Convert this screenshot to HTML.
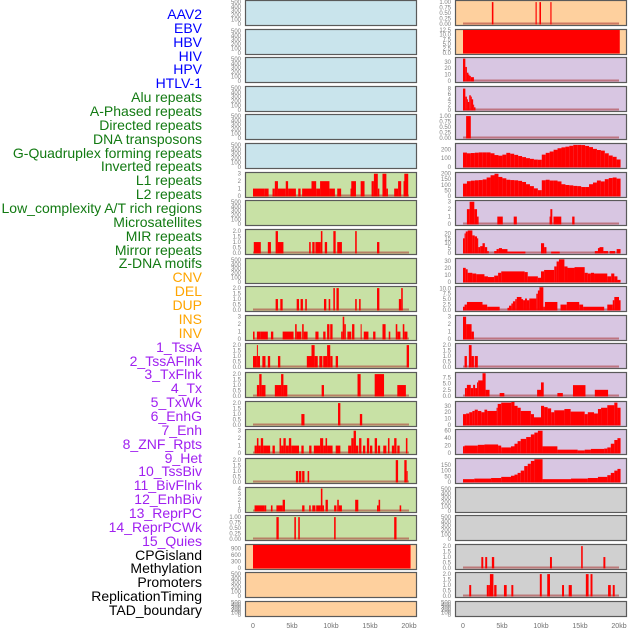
<!DOCTYPE html>
<html><head><meta charset="utf-8">
<style>
html,body{margin:0;padding:0;background:#fff;}
body{width:630px;height:630px;overflow:hidden;position:relative;font-family:"Liberation Sans",sans-serif;}
#labels div{position:absolute;right:428px;font-size:14px;line-height:14px;white-space:nowrap;}
</style></head>
<body>
<div id="labels"></div>
<svg id="chart" width="630" height="630" style="position:absolute;left:0;top:0"></svg>
<script>
// ---- track names and groups ----
const trackNames = ["AAV2","EBV","HBV","HIV","HPV","HTLV-1","Alu repeats","A-Phased repeats","Directed repeats","DNA transposons","G-Quadruplex forming repeats","Inverted repeats","L1 repeats","L2 repeats","Low_complexity A/T rich regions","Microsatellites","MIR repeats","Mirror repeats","Z-DNA motifs","CNV","DEL","DUP","INS","INV","1_TssA","2_TssAFlnk","3_TxFlnk","4_Tx","5_TxWk","6_EnhG","7_Enh","8_ZNF_Rpts","9_Het","10_TssBiv","11_BivFlnk","12_EnhBiv","13_ReprPC","14_ReprPCWk","15_Quies","CPGisland","Methylation","Promoters","ReplicationTiming","TAD_boundary"];
const groupCounts = [6,13,5,15,5];
const groupColors = ["#0000ff","#127a12","#ffa500","#a020f0","#000000"];
const panelBg = ["#c9e4ec","#c8e1a5","#fed09e","#d8c6e2","#d0d0d0"];
const panelBgIdx = [0,0,0,0,0,0,1,1,1,1,1,1,1,1,1,1,1,1,1,2,2,2,2,2,3,3,3,3,3,3,3,3,3,3,3,3,3,3,3,3,3,4,4,4,4,4];
const xTickVals = [0,5,10,15,20];
const xTickLabels = ["0","5kb","10kb","15kb","20kb"];

// ---- tick label sets ----
const T500=["0","100","200","300","400","500"];
const T3=["0","1","2","3"];
const T4=["0","1","2","3","4"];
const T2=["0.0","0.5","1.0","1.5","2.0"];
const T1=["0.00","0.25","0.50","0.75","1.00"];
const T900=["0","300","600","900"];
const T125=["0.0","2.5","5.0","7.5","10.0","12.5"];
const T30=["0","10","20","30"];
const T8=["0","2","4","6","8"];
const T200=["0","100","200"];
const T200b=["0","50","100","150","200"];
const T20=["0","5","10","15","20"];
const T10=["0.0","2.5","5.0","7.5","10.0"];
const T75=["0.0","2.5","5.0","7.5"];
const T60=["0","20","40","60"];
const T150=["0","50","100","150"];

// ---- segment data [startKb, endKb, value] ----
const segL6=[[0,1.5,1],[1.5,2.0,1],[2.5,2.8,1],[2.8,3.2,2],[3.2,4.2,1],[4.2,4.5,2],[4.5,5.5,1],[5.8,6.1,1],[6.3,7.5,1],[7.5,8.1,2],[8.1,8.6,1],[8.6,9.8,2],[9.8,10.5,1],[10.8,11.3,1],[12.5,12.6,1],[12.6,13.2,2],[13.8,14.3,2],[15.2,15.5,2],[15.5,16.0,3],[16.0,16.2,1],[16.6,17.1,3],[17.1,17.3,1],[18.1,18.6,1],[18.6,19.0,2],[19.3,19.4,2],[19.4,19.9,3]];
const segL8=[[0.1,1.0,1],[1.9,2.3,1],[2.9,3.2,2],[3.2,3.9,1],[7.2,7.4,1],[7.6,7.9,1],[8.0,8.7,1],[8.7,8.9,2],[9.2,9.5,1],[10.3,10.6,2],[10.8,11.4,1],[13.1,13.3,2],[15.9,16.2,1]];
const segL10=[[2.9,3.2,1],[3.5,3.8,1],[5.6,5.9,1],[6.1,6.4,1],[6.7,6.9,1],[9.1,9.4,1],[9.7,9.9,1],[10.3,10.5,2],[10.7,11.0,2],[13.1,13.3,1],[13.6,13.8,1],[15.9,16.2,2],[18.7,19.0,1],[19.0,19.2,2]];
const segL11=[[0,0.2,1],[0.5,1.0,1],[1.0,1.9,1],[2.3,2.6,1],[3.8,5.2,1],[5.4,5.6,2],[5.6,6.2,1],[6.3,6.5,2],[6.5,7.0,1],[8.0,8.4,1],[9.0,9.3,1],[9.5,9.8,2],[9.9,10.2,2],[11.3,11.5,1],[11.5,11.7,3],[11.7,11.9,2],[12.1,12.6,1],[12.7,13.0,2],[13.8,13.9,2],[14.2,14.8,1],[15.4,15.7,1],[16.6,17.0,2],[17.4,17.6,1],[18.3,18.5,2],[18.5,18.9,1],[19.2,19.4,2],[19.4,19.8,1]];
const segL12=[[0,0.5,1],[0.5,0.6,2],[0.6,0.9,1],[1.2,1.6,1],[1.9,2.2,1],[3.2,3.5,1],[6.9,7.5,1],[7.5,7.9,2],[7.9,8.3,1],[8.5,8.9,1],[9.0,9.5,1],[9.5,9.9,2],[9.9,10.2,1],[10.6,10.9,1],[19.7,20.0,2]];
const segL13=[[0.5,0.8,1],[0.8,1.1,2],[1.1,1.6,1],[2.8,3.6,1],[3.6,3.9,2],[3.9,4.4,1],[8.8,9.1,1],[13.4,13.8,2],[15.6,16.8,2],[18.5,19.6,1]];
const segL14=[[6.2,6.6,1],[10.9,11.2,2],[13.7,14.0,1]];
const segL15=[[0.2,0.5,1],[0.5,0.7,2],[0.7,1.0,1],[1.0,1.3,2],[1.3,2.2,1],[2.5,2.8,1],[3.4,3.6,2],[3.6,3.9,1],[3.9,4.2,2],[4.2,4.6,1],[4.6,4.9,2],[4.9,5.9,1],[6.2,6.5,1],[7.2,7.5,1],[7.8,8.6,1],[8.6,9.0,2],[9.0,9.3,1],[9.3,9.5,2],[9.5,10.2,1],[10.6,11.2,1],[12.2,12.6,1],[12.6,12.9,2],[12.9,13.2,3],[13.2,13.5,1],[13.6,13.9,2],[14.1,14.4,1],[14.6,14.9,2],[15.0,15.3,1],[15.6,15.9,2],[16.0,16.3,1],[16.7,17.1,1],[17.3,17.5,2],[17.8,18.1,1],[18.1,18.4,2],[18.5,18.8,1],[19.6,19.8,2]];
const segL16=[[5.5,5.8,1],[5.9,6.2,1],[6.3,6.6,1],[7.0,7.2,1],[18.3,18.6,2],[19.4,19.7,2],[19.7,19.8,1]];
const segL17=[[0.2,1.5,1],[1.5,1.7,1],[2.3,2.5,1],[3.0,3.8,1],[3.8,4.1,2],[6.3,6.6,1],[7.2,7.4,1],[7.6,8.0,1],[8.1,8.7,1],[8.7,8.9,4],[8.9,9.1,1],[9.3,9.6,2],[10.4,10.7,1],[10.8,11.0,2],[11.0,11.4,1],[13.1,13.5,2],[15.9,16.1,1],[16.1,16.3,2],[18.8,19.0,1]];
const segL18=[[3.0,3.3,1],[5.3,5.5,1],[5.8,6.0,1],[10.4,10.6,1],[18.1,18.4,1]];
const segL19=[[0,20.2,1058]];
const segR0=[[3.7,3.9,1],[9.3,9.45,1],[9.8,10.0,1],[11.2,11.35,1]];
const segR1=[[0,20.1,12.6]];
const segR2=[[0,0.3,35],[0.3,0.5,22],[0.5,0.7,13],[0.7,0.8,10],[0.8,1.0,8],[1.0,1.4,6]];
const segR3=[[0,0.3,8],[0.3,0.5,5],[0.5,0.6,4],[0.6,0.8,3],[0.8,1.0,5.5],[1.0,1.1,5],[1.1,1.3,4],[1.3,1.4,2],[1.4,1.6,1]];
const segR4=[[0.4,1.0,1]];
const binR5=[163,155,158,162,165,165,165,155,135,128,140,160,150,137,124,112,100,92,84,82,140,160,175,195,212,222,230,240,250,250,248,238,225,205,192,185,155,130,115,85];
const binR6=[110,132,137,140,142,148,165,185,198,170,158,145,142,140,135,125,105,88,68,52,140,145,138,138,130,105,98,95,90,88,80,80,105,120,138,130,150,160,165,155];
const segR7=[[0.5,0.85,2],[0.85,1.45,3],[1.45,1.8,2],[1.8,2.0,1],[4.4,5.1,1],[6.5,6.9,1],[11.1,11.2,1],[11.2,11.45,2],[11.6,12.6,1],[14.0,14.3,1]];
const segR8=[[0,0.2,15],[0.2,0.35,20],[0.35,0.6,22],[0.6,1.2,23],[1.2,1.5,18],[1.5,1.8,17],[1.8,1.95,15],[1.95,2.2,6],[2.2,2.5,7],[2.5,2.8,10],[2.8,3.1,6],[3.1,3.3,2],[4.0,4.3,2],[4.3,4.6,4],[4.6,5.0,5],[5.0,5.7,4],[5.7,8.0,1.5],[10.0,10.4,10],[10.4,10.7,6],[11.3,12.4,1.5],[16.9,17.3,2],[17.3,17.5,5],[17.5,18.0,6],[18.0,18.6,2],[18.8,19.5,2],[19.7,20.2,4]];
const segR9=[[0,0.35,20],[0.35,0.6,18],[0.6,1.2,13],[1.2,1.7,12],[1.7,2.75,11],[2.75,3.2,8],[3.2,4.0,7],[4.0,4.5,9],[4.5,4.9,13],[4.9,7.9,15],[7.9,8.3,14],[8.3,9.6,8],[9.6,10.0,6],[10.0,10.4,15],[10.4,11.7,17],[11.7,12.0,22],[12.0,12.3,29],[12.3,13.0,32],[13.0,13.4,22],[13.4,14.3,20],[14.3,15.6,21],[15.6,16.0,13],[16.0,16.4,12],[16.4,16.8,13],[16.8,18.5,12],[18.5,19.0,8],[19.0,19.4,12],[19.4,19.8,8],[19.8,20.2,3]];
const segR10=[[0,0.2,1.5],[0.2,0.5,2.5],[0.5,2.5,3.7],[2.5,3.1,2.5],[3.1,4.7,1.5],[5.7,5.9,1],[5.9,6.2,2],[6.2,6.4,3],[6.4,6.7,4],[6.7,6.9,5],[6.9,7.5,6],[7.5,7.7,5],[7.7,7.95,4.5],[7.95,8.2,5.3],[8.2,8.5,4.5],[8.5,9.4,5.3],[9.4,9.6,7.5],[9.6,9.8,9],[9.8,10.3,10.5],[10.3,10.5,1.5],[10.5,12.1,3.7],[12.5,13.3,2.5],[13.3,14.9,3.7],[14.9,15.4,2.5],[15.4,18.1,1.5],[18.5,19.2,2.5],[19.2,19.4,4.5],[19.4,20.0,6],[20.0,20.2,4.5]];
const segR11=[[0,0.4,3],[0.4,1.1,2],[1.1,1.4,1]];
const segR12=[[0.2,0.5,1],[0.75,1.1,2],[1.1,1.4,1],[1.5,1.9,1]];
const segR13=[[0.25,0.5,3.2],[0.5,1.0,4.5],[1.0,1.3,3.2],[1.3,1.55,4.5],[1.55,1.8,3.2],[1.8,1.95,5.5],[1.95,2.5,6.3],[2.5,2.9,9.2],[2.9,3.4,2.5],[4.7,5.3,1.2],[9.5,10.0,2.5],[10.0,10.35,5.5],[12.1,12.8,1.2],[14.1,15.7,4.4],[16.9,18.6,2.5]];
const segR14=[[0,0.4,17],[0.4,0.8,18],[0.8,1.2,20],[1.2,1.5,22],[1.5,1.9,24],[1.9,2.35,22],[2.35,2.75,20],[2.75,3.1,24],[3.1,4.3,22],[4.3,4.45,27],[4.45,4.9,33],[4.9,6.2,35],[6.2,6.6,36],[6.6,7.0,30],[7.0,7.4,27],[7.4,8.7,22],[8.7,9.1,17],[9.1,10.0,12],[10.0,10.4,30],[10.4,10.85,28],[10.85,11.3,26],[11.3,11.7,20],[11.7,13.0,23],[13.0,13.8,25],[13.8,15.6,21],[15.6,16.0,17],[16.0,16.8,20],[16.8,17.3,18],[17.3,17.7,25],[17.7,18.5,27],[18.5,19.4,31],[19.4,19.8,35],[19.8,20.2,27]];
const segR15=[[0,0.2,18],[0.2,1.9,20],[1.9,2.75,22],[2.75,4.5,23],[4.5,4.9,20],[4.9,6.15,15],[6.15,6.6,18],[6.6,7.0,25],[7.0,7.4,32],[7.4,8.1,38],[8.1,8.7,43],[8.7,9.15,50],[9.15,9.6,55],[9.6,10.2,60],[10.2,12.1,18],[12.1,14.7,9],[14.7,15.6,7],[15.6,16.4,9],[16.4,18.1,11],[18.1,18.5,12],[18.5,18.95,15],[18.95,19.4,25],[19.4,19.8,35],[19.8,20.2,40]];
const segR16=[[0,1.45,25],[1.45,3.6,30],[3.6,4.9,35],[4.9,6.15,45],[6.15,6.6,55],[6.6,7.0,65],[7.0,7.4,80],[7.4,7.85,100],[7.85,8.3,140],[8.3,8.7,160],[8.7,9.15,185],[9.15,10.2,200],[10.2,13.85,25],[13.85,16.0,30],[16.0,17.3,35],[17.3,18.5,45],[18.5,18.95,60],[18.95,19.4,80],[19.4,19.8,100],[19.8,20.2,115]];
const segR19=[[2.35,2.6,1],[2.85,3.1,1],[3.7,4.0,1],[11.15,11.4,1],[15.15,15.35,2],[18.0,18.25,1]];
const segR20=[[0.8,1.05,1],[3.05,3.3,1],[3.3,3.45,1],[3.45,3.9,2],[4.0,4.3,1],[5.25,5.6,1],[6.2,6.45,1],[9.85,10.1,2],[10.8,11.15,2],[12.7,12.95,1],[13.55,13.95,1],[15.75,16.1,2],[16.35,16.6,2],[18.6,18.95,1],[19.2,19.45,1]];

// ---- panel definitions: [column, row, bgIndex, ticks, ymax, segments, binned] ----
const panels = [
 [0,0,0,T500,520,null,null],[0,1,0,T500,520,null,null],[0,2,0,T500,520,null,null],
 [0,3,0,T500,520,null,null],[0,4,0,T500,520,null,null],[0,5,0,T500,520,null,null],
 [0,6,1,T3,3.1,segL6,null],[0,7,1,T500,520,null,null],[0,8,1,T2,2.1,segL8,null],
 [0,9,1,T500,520,null,null],[0,10,1,T2,2.1,segL10,null],[0,11,1,T3,3.1,segL11,null],
 [0,12,1,T2,2.1,segL12,null],[0,13,1,T2,2.1,segL13,null],[0,14,1,T2,2.1,segL14,null],
 [0,15,1,T3,3.1,segL15,null],[0,16,1,T2,2.1,segL16,null],[0,17,1,T4,4.1,segL17,null],
 [0,18,1,T1,1.05,segL18,null],[0,19,2,T900,1058,segL19,null],[0,20,2,T500,520,null,null],
 [0,21,2,T500,520,null,null],
 [1,0,2,T1,1.05,segR0,null],[1,1,2,T125,12.6,segR1,null],[1,2,3,T30,36,segR2,null],
 [1,3,3,T8,8.6,segR3,null],[1,4,3,T1,1.05,segR4,null],[1,5,3,T200,260,null,binR5],
 [1,6,3,T200b,205,null,binR6],[1,7,3,T3,3.1,segR7,null],[1,8,3,T20,23.5,segR8,null],
 [1,9,3,T30,32.5,segR9,null],[1,10,3,T10,10.6,segR10,null],[1,11,3,T3,3.1,segR11,null],
 [1,12,3,T2,2.1,segR12,null],[1,13,3,T75,9.3,segR13,null],[1,14,3,T30,36,segR14,null],
 [1,15,3,T60,62,segR15,null],[1,16,3,T150,202,segR16,null],[1,17,4,T500,520,null,null],
 [1,18,4,T500,520,null,null],[1,19,4,T2,2.1,segR19,null],[1,20,4,T2,2.1,segR20,null],
 [1,21,4,T500,520,null,null]
];

const NS="http://www.w3.org/2000/svg";
const svg=document.getElementById('chart');
const X0=[253,463], PXKB=7.8, FRAME=[245,455], FW=171;
function xs(col,kb){return X0[col]+kb*PXKB;}
function rowTop(r){return Math.round(r*28.62);}
function rowH(r){return r===21?15:25;}
function mk(tag,attrs){const e=document.createElementNS(NS,tag);for(const k in attrs)e.setAttribute(k,attrs[k]);svg.appendChild(e);return e;}

// labels
const lab=document.getElementById('labels');
let gi=0,cnt=0;
trackNames.forEach((n,i)=>{
  while(cnt>=groupCounts[gi]){gi++;cnt=0;}
  cnt++;
  const d=document.createElement('div');
  d.textContent=n;
  d.style.top=(7+i*13.86)+'px';
  d.style.color=groupColors[gi];
  
  
  lab.appendChild(d);
});

panels.forEach(p=>{
  const [col,row,bg,ticks,ymax,segs,bins]=p;
  const top=rowTop(row), h=rowH(row);
  const yb=top+h-1, yt=top+1;
  const ys=v=>yb-(v/ymax)*(yb-yt);
  const fr=mk('rect',{x:FRAME[col]+0.5,y:top+0.5,width:FW,height:h,fill:panelBg[bg],stroke:'#5a5a5a','stroke-width':1.2});
  
  
  // ticks
  ticks.forEach(t=>{
    const v=parseFloat(t);
    const tx=mk('text',{x:FRAME[col]-4,y:ys(v)+2,'font-size':6,'text-anchor':'end',fill:'#808080','font-family':'Liberation Sans, sans-serif'});
    tx.textContent=t;
    
    
  });
  const data=[];
  if(segs) segs.forEach(s=>data.push(s));
  if(bins) bins.forEach((v,i)=>data.push([i*0.505,(i+1)*0.505,v]));
  if(data.length){
    if(!(segs&&segs.length===1&&segs[0][1]>20)){
      const bl=mk('line',{x1:xs(col,0),x2:xs(col,20),y1:yb-0.5,y2:yb-0.5,stroke:'rgba(170,50,50,0.55)','stroke-width':2});
      
      
    }
    data.forEach(s=>{
      const x1=xs(col,s[0]),x2=xs(col,s[1]);
      const y=Math.max(yt-1,ys(s[2]));
      const r=mk('rect',{x:x1,y:y,width:Math.max(1,x2-x1),height:yb-y+0.5,fill:'#ff0000'});
      
      
    });
  }
});

// x axis labels
[0,1].forEach(col=>{
  xTickVals.forEach((v,i)=>{
    const t=mk('text',{x:xs(col,v),y:628,'font-size':7,'text-anchor':'middle',fill:'#707070','font-family':'Liberation Sans, sans-serif'});
    t.textContent=xTickLabels[i];
    
    
  });
});
</script>
</body></html>
